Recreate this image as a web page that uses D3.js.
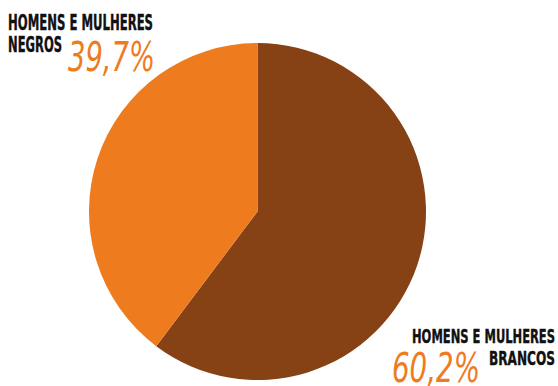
<!DOCTYPE html>
<html><head><meta charset="utf-8">
<script src="https://cdn.jsdelivr.net/npm/d3@7"></script>
<style>body{margin:0;background:#fff}</style>
</head><body>
<svg id="c" width="558" height="386"></svg>
<script>
const categories = ["HOMENS E MULHERES BRANCOS", "HOMENS E MULHERES NEGROS"];
const values = [60.2, 39.7];
const valueLabels = ["60,2%", "39,7%"];
const colors = ["#864115", "#EE7C1F"];

const svg = d3.select("#c");
const cx = 257.5, cy = 211.5, r = 168.5;
const pie = d3.pie().sort(null).value(d => d)(values);
const arc = d3.arc().innerRadius(0).outerRadius(r);
svg.append("g").attr("transform", `translate(${cx},${cy})`)
  .selectAll("path").data(pie).join("path")
  .attr("d", arc).attr("fill", (d, i) => colors[i]);

const lblFont = "'Liberation Sans Narrow','DejaVu Sans Condensed','Roboto Condensed',sans-serif";
const numFont = "'Comic Sans MS','DejaVu Sans','Noto Sans',sans-serif";

function label(x, y, txt, w, size) {
  svg.append("text").attr("x", x).attr("y", y)
    .attr("font-family", lblFont).attr("font-weight", "bold").attr("font-size", size)
    .attr("fill", "#111").attr("textLength", w).attr("lengthAdjust", "spacingAndGlyphs")
    .attr("stroke", "#111").attr("stroke-width", 0.4)
    .text(txt);
}
function num(x, y, txt, w) {
  svg.append("text").attr("x", x).attr("y", y)
    .attr("font-family", numFont).attr("font-weight", "300").attr("font-size", 40)
    .attr("fill", colors[1]).attr("font-style", "italic")
    .attr("textLength", w).attr("lengthAdjust", "spacingAndGlyphs")
    .text(txt);
}
// Negros (top-left)
const wNeg = categories[1].split(" ");
label(8, 29.5, wNeg.slice(0, 3).join(" "), 145, 20.5);
label(8, 51.5, wNeg[3], 54, 20.5);
num(68, 71, valueLabels[1], 87);
// Brancos (bottom-right)
const wBr = categories[0].split(" ");
label(412, 343, wBr.slice(0, 3).join(" "), 143, 19.5);
label(489, 364.5, wBr[3], 66, 19.5);
num(392, 382, valueLabels[0], 88);
</script>
</body></html>
